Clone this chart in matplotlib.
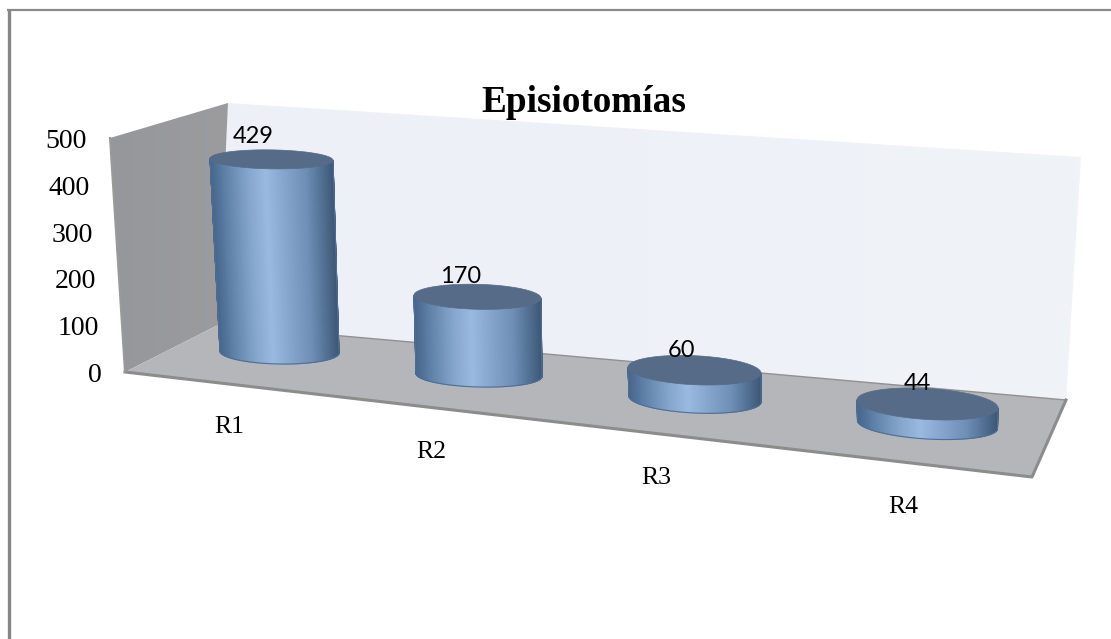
import numpy as np
import matplotlib
matplotlib.use("Agg")
import matplotlib.pyplot as plt
from matplotlib.patches import Polygon
from matplotlib.colors import LinearSegmentedColormap

# ---- data ----
categories = ["R1", "R2", "R3", "R4"]
values = [429, 170, 60, 44]
y_ticks = [0, 100, 200, 300, 400, 500]
title = "Episiotomías"

# ---- pseudo-3D layout (pixels) ----
W, H = 1111, 639
base_x = [279.5, 479, 695, 927.5]
base_y = [352, 375, 399, 424.5]
unit_px = [0.449, 0.46, 0.48, 0.466]
lean_px = [0.0186, 0.0088, 0.008, 0.0]
rx_top = [61.5, 63.5, 66.5, 70.5]
rx_bot = [59.5, 63.0, 66.0, 70.0]
ry_top = [9.5, 12.5, 14.5, 15.5]
ry_bot = [12, 12, 14, 14.5]
shear = [0.016, 0.024, 0.045, 0.057]
cat_label_xy = [(229, 427), (431, 452), (656, 478), (903, 507)]
label_dx = [-18.5, -16.5, -13.5, -10.5]
label_dy = [-23, -20, -19.5, -20.5]

left_wall = [(110, 138), (228, 103), (218, 325), (125, 372)]
back_wall = [(228, 103), (1081, 157), (1066, 400), (218, 325)]
floor = [(125, 372), (218, 325), (1066, 400), (1032, 477)]

serif = "Liberation Serif"
fig = plt.figure(figsize=(W / 100, H / 100), dpi=100, facecolor="white")
ax = fig.add_axes([0, 0, 1, 1])
ax.set_xlim(0, W)
ax.set_ylim(H, 0)
ax.axis("off")


def grad_poly(pts, colors, z=1):
    xs, ys = zip(*pts)
    ext = (min(xs), max(xs), max(ys), min(ys))
    arr = np.linspace(0, 1, 256)[None, :]
    cm = LinearSegmentedColormap.from_list("g", colors)
    im = ax.imshow(arr, cmap=cm, extent=ext, aspect="auto", zorder=z, interpolation="bilinear")
    patch = Polygon(pts, closed=True, transform=ax.transData, fc="none", ec="none")
    ax.add_patch(patch)
    im.set_clip_path(patch)


# outer frame
ax.plot([8.5, 8.5], [H, 9], color="#868686", lw=2.4, solid_capstyle="butt", zorder=1)
ax.plot([7, W], [10, 10], color="#8a8a8a", lw=1.6, solid_capstyle="butt", zorder=1)

# walls and floor
grad_poly(back_wall, ["#edf0f6", "#eef1f7", "#f0f3f8"], z=1)
grad_poly(left_wall, ["#96979a", "#9c9c9f"], z=1)
ax.add_patch(Polygon(floor, closed=True, fc="#b5b6b9", ec="none", zorder=2))
ax.plot([218, 1066], [325, 400], color="#8f9092", lw=1.0, zorder=2)
ax.plot([125, 1032, 1066], [372, 477, 400], color="#8c8c8c", lw=2.2, zorder=3)
ax.plot([110, 125], [138, 372], color="#9a9a9a", lw=1.5, zorder=3)

# value axis labels follow the wall's front edge
for t in y_ticks:
    f = t / y_ticks[-1]
    ax.text(102 - 15 * f, 375 - 233 * f, str(t), ha="right", va="center",
            family=serif, fontsize=20, color="black", zorder=6)

cmap = LinearSegmentedColormap.from_list(
    "cyl",
    [(0.0, "#46658a"), (0.12, "#5f82a9"), (0.30, "#84a5cc"), (0.45, "#9abae1"),
     (0.60, "#86a6cd"), (0.78, "#6f8fb6"), (0.92, "#4f6d90"), (1.0, "#3e5976")],
)

for i, v in enumerate(values):
    bx, by = base_x[i], base_y[i]
    tx = bx - lean_px[i] * v
    ty = by - unit_px[i] * v
    s = shear[i]
    t = np.linspace(np.pi, 0, 121)
    xt = tx + rx_top[i] * np.cos(t)
    yt = ty + ry_top[i] * np.sin(t) + s * rx_top[i] * np.cos(t)
    xb = bx + rx_bot[i] * np.cos(t)
    yb = by + ry_bot[i] * np.sin(t) + s * rx_bot[i] * np.cos(t)
    X = np.vstack([xt, xb])
    Y = np.vstack([yt, yb])
    u = (xb - (bx - rx_bot[i])) / (2 * rx_bot[i])
    C = np.vstack([u, u])
    ax.pcolormesh(X, Y, C, shading="gouraud", cmap=cmap, vmin=0, vmax=1, zorder=4)
    # soft outline of the body
    ax.plot(np.r_[xt[0], xb, xt[-1]], np.r_[yt[0], yb, yt[-1]], color="#4f6f96", lw=0.8, zorder=4)
    # top cap
    tt = np.linspace(0, 2 * np.pi, 200)
    cx = tx + rx_top[i] * np.cos(tt)
    cy = ty + ry_top[i] * np.sin(tt) + s * rx_top[i] * np.cos(tt)
    ax.fill(cx, cy, fc="#566b88", ec="#566b88", lw=0.5, zorder=5)
    # data label
    ax.text(tx + label_dx[i], ty + label_dy[i], str(v), ha="center", va="center",
            family="Lato", fontsize=17, color="black", zorder=6)

for name, (x, y) in zip(categories, cat_label_xy):
    ax.text(x, y, name, ha="center", va="center", family=serif, fontsize=18.5, color="black", zorder=6)

ax.text(584, 102, title, ha="center", va="center", family=serif, fontweight="bold",
        fontsize=26.8, color="black", zorder=6)

ax.set_xlim(0, W)
ax.set_ylim(H, 0)
fig.savefig("out.png", dpi=100, facecolor="white")
